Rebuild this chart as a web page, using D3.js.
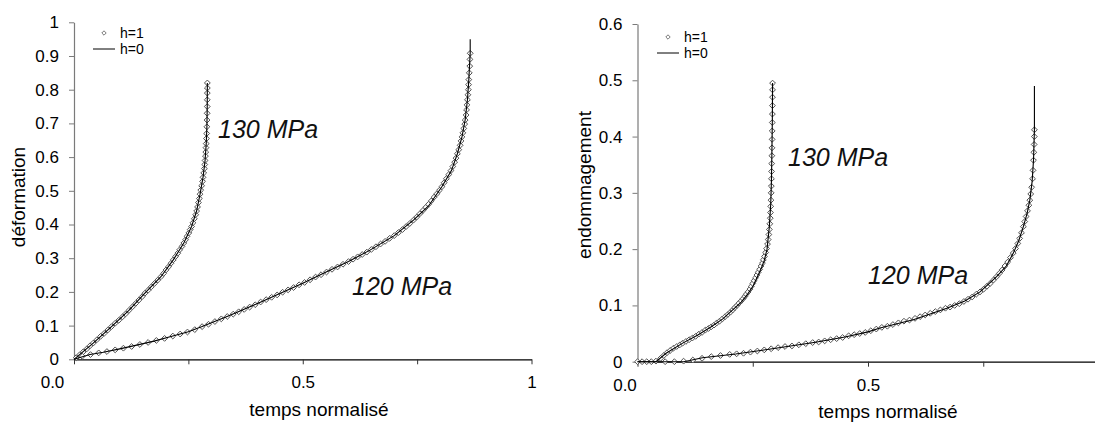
<!DOCTYPE html>
<html><head><meta charset="utf-8">
<script src="https://cdn.jsdelivr.net/npm/d3@7"></script>
<style>body{margin:0;background:#fff}svg{display:block;font-family:"Liberation Sans",Arial,sans-serif}</style>
</head><body>
<script>
// ---------- DATA ----------
const legendLabels = ["h=1", "h=0"];
const stressLabels = ["130 MPa", "120 MPa"];
const xTitle = "temps normalisé";
const leftYTitle = "déformation";
const rightYTitle = "endommagement";

const leftXTicks = [0, 0.25, 0.5, 0.75, 1];
const leftXTickLabels = ["0.0", "", "0.5", "", "1"];
const leftYTicks = [0, 0.1, 0.2, 0.3, 0.4, 0.5, 0.6, 0.7, 0.8, 0.9, 1];
const leftYTickLabels = ["0", "0.1", "0.2", "0.3", "0.4", "0.5", "0.6", "0.7", "0.8", "0.9", "1"];
const rightXTicks = [0, 0.25, 0.5, 0.75];
const rightXTickLabels = ["0.0", "", "0.5", ""];
const rightYTicks = [0, 0.1, 0.2, 0.3, 0.4, 0.5, 0.6];
const rightYTickLabels = ["0", "0.1", "0.2", "0.3", "0.4", "0.5", "0.6"];

// déformation, h=0 (line)
const defLine130 = [[0,0],[0.042,0.048],[0.082,0.097],[0.12,0.145],[0.155,0.196],[0.19,0.245],[0.217,0.295],[0.24,0.345],[0.257,0.394],[0.268,0.44],[0.2755,0.49],[0.282,0.54],[0.2865,0.59],[0.289,0.64],[0.2905,0.69],[0.2912,0.75],[0.2915,0.82]];
const defLine120 = [[0,0],[0.035,0.014],[0.064,0.021],[0.1,0.031],[0.137,0.042],[0.175,0.054],[0.21,0.067],[0.25,0.082],[0.28,0.097],[0.34,0.13],[0.4,0.165],[0.45,0.195],[0.5,0.226],[0.55,0.258],[0.6,0.29],[0.647,0.324],[0.7,0.367],[0.742,0.413],[0.775,0.455],[0.804,0.512],[0.825,0.56],[0.838,0.61],[0.848,0.66],[0.855,0.71],[0.86,0.77],[0.863,0.83],[0.866,0.91],[0.866,0.95]];
// déformation, h=1 (markers)
const defPts130 = [[0.005,0.005],[0.012,0.013],[0.02,0.022],[0.028,0.031],[0.035,0.04],[0.042,0.048],[0.05,0.058],[0.058,0.068],[0.066,0.077],[0.074,0.087],[0.082,0.097],[0.09,0.107],[0.098,0.116],[0.106,0.126],[0.113,0.135],[0.12,0.145],[0.128,0.156],[0.135,0.166],[0.142,0.176],[0.149,0.186],[0.155,0.196],[0.162,0.205],[0.169,0.215],[0.176,0.225],[0.183,0.235],[0.19,0.245],[0.196,0.255],[0.201,0.265],[0.207,0.275],[0.212,0.285],[0.217,0.295],[0.222,0.305],[0.227,0.315],[0.231,0.325],[0.236,0.335],[0.24,0.345],[0.244,0.355],[0.247,0.365],[0.251,0.375],[0.254,0.385],[0.257,0.394],[0.26,0.405],[0.263,0.417],[0.266,0.429],[0.268,0.44],[0.27,0.452],[0.272,0.465],[0.274,0.477],[0.2755,0.49],[0.277,0.502],[0.279,0.515],[0.281,0.528],[0.282,0.54],[0.2835,0.553],[0.285,0.566],[0.2858,0.578],[0.2865,0.59],[0.2873,0.603],[0.288,0.615],[0.2885,0.628],[0.289,0.64],[0.2895,0.655],[0.29,0.67],[0.2905,0.69],[0.2908,0.71],[0.291,0.73],[0.2912,0.75],[0.2913,0.77],[0.2914,0.79],[0.2915,0.805],[0.2915,0.82]];
const defPts120 = [[0.018,0.009],[0.036,0.014],[0.054,0.019],[0.072,0.023],[0.09,0.028],[0.108,0.033],[0.126,0.038],[0.144,0.044],[0.162,0.05],[0.18,0.056],[0.198,0.062],[0.216,0.069],[0.232,0.075],[0.248,0.081],[0.264,0.088],[0.28,0.097],[0.294,0.104],[0.308,0.112],[0.322,0.12],[0.335,0.127],[0.348,0.134],[0.36,0.141],[0.372,0.148],[0.384,0.155],[0.396,0.162],[0.408,0.17],[0.42,0.177],[0.432,0.184],[0.444,0.191],[0.456,0.199],[0.468,0.206],[0.48,0.213],[0.492,0.221],[0.504,0.228],[0.516,0.236],[0.528,0.244],[0.54,0.251],[0.552,0.259],[0.564,0.267],[0.576,0.274],[0.588,0.282],[0.6,0.29],[0.61,0.297],[0.62,0.304],[0.63,0.311],[0.64,0.318],[0.65,0.326],[0.66,0.334],[0.67,0.342],[0.68,0.35],[0.69,0.359],[0.7,0.367],[0.709,0.376],[0.718,0.385],[0.726,0.394],[0.734,0.403],[0.742,0.413],[0.749,0.422],[0.756,0.432],[0.763,0.442],[0.769,0.451],[0.775,0.46],[0.781,0.47],[0.787,0.481],[0.793,0.491],[0.799,0.502],[0.804,0.512],[0.809,0.524],[0.814,0.536],[0.819,0.548],[0.824,0.56],[0.828,0.572],[0.832,0.585],[0.835,0.597],[0.838,0.61],[0.841,0.622],[0.844,0.635],[0.846,0.648],[0.848,0.66],[0.85,0.672],[0.852,0.685],[0.854,0.698],[0.855,0.71],[0.857,0.725],[0.858,0.74],[0.859,0.755],[0.86,0.77],[0.861,0.785],[0.862,0.8],[0.8625,0.815],[0.863,0.83],[0.864,0.85],[0.865,0.87],[0.8655,0.89],[0.866,0.908]];

// endommagement, h=0 (line)
const endLine130 = [[0,0],[0.04,0],[0.062,0.015],[0.098,0.033],[0.13,0.047],[0.16,0.062],[0.185,0.076],[0.2065,0.092],[0.225,0.106],[0.239,0.12],[0.251,0.135],[0.26,0.151],[0.268,0.165],[0.275,0.18],[0.281,0.2],[0.286,0.24],[0.289,0.28],[0.2905,0.32],[0.2915,0.37],[0.2925,0.43],[0.293,0.495]];
const endLine120 = [[0,0],[0.06,0],[0.1,0],[0.113,0.002],[0.141,0.007],[0.213,0.0137],[0.285,0.022],[0.386,0.0345],[0.45,0.044],[0.5,0.053],[0.526,0.06],[0.6,0.075],[0.671,0.095],[0.71,0.108],[0.743,0.124],[0.779,0.151],[0.8,0.17],[0.815,0.1925],[0.827,0.215],[0.837,0.24],[0.845,0.263],[0.851,0.287],[0.856,0.32],[0.859,0.358],[0.861,0.412],[0.861,0.49]];
// endommagement, h=1 (markers)
const endPts130 = [[0,0],[0.01,0],[0.02,0],[0.03,0],[0.04,0.001],[0.05,0.006],[0.057,0.011],[0.064,0.016],[0.071,0.02],[0.078,0.024],[0.085,0.027],[0.092,0.03],[0.098,0.033],[0.105,0.036],[0.112,0.039],[0.119,0.042],[0.126,0.045],[0.133,0.049],[0.14,0.052],[0.147,0.056],[0.154,0.059],[0.16,0.062],[0.166,0.065],[0.172,0.069],[0.178,0.072],[0.184,0.076],[0.19,0.08],[0.196,0.084],[0.2015,0.088],[0.2065,0.092],[0.211,0.096],[0.216,0.1],[0.22,0.104],[0.225,0.108],[0.229,0.112],[0.233,0.116],[0.236,0.12],[0.24,0.124],[0.244,0.129],[0.247,0.134],[0.25,0.139],[0.253,0.144],[0.256,0.149],[0.259,0.154],[0.262,0.159],[0.265,0.164],[0.268,0.17],[0.271,0.175],[0.273,0.181],[0.2755,0.187],[0.278,0.194],[0.28,0.201],[0.282,0.209],[0.2835,0.217],[0.285,0.226],[0.286,0.235],[0.287,0.245],[0.288,0.255],[0.2885,0.265],[0.289,0.276],[0.2895,0.287],[0.29,0.3],[0.2903,0.312],[0.2906,0.325],[0.2909,0.338],[0.2912,0.352],[0.2915,0.366],[0.2918,0.38],[0.292,0.395],[0.2922,0.41],[0.2924,0.425],[0.2926,0.44],[0.2927,0.455],[0.2928,0.47],[0.2929,0.483],[0.293,0.495]];
const endPts120 = [[0.06,0],[0.08,0],[0.1,0.001],[0.12,0.003],[0.14,0.006],[0.16,0.009],[0.18,0.011],[0.2,0.013],[0.215,0.014],[0.23,0.015],[0.245,0.017],[0.26,0.019],[0.275,0.021],[0.29,0.023],[0.305,0.025],[0.32,0.027],[0.335,0.028],[0.35,0.03],[0.365,0.032],[0.38,0.034],[0.393,0.035],[0.406,0.037],[0.419,0.039],[0.432,0.041],[0.445,0.043],[0.458,0.046],[0.47,0.048],[0.482,0.05],[0.494,0.052],[0.506,0.055],[0.518,0.058],[0.53,0.061],[0.542,0.063],[0.554,0.066],[0.566,0.069],[0.578,0.072],[0.59,0.074],[0.602,0.077],[0.613,0.08],[0.624,0.083],[0.635,0.086],[0.646,0.089],[0.657,0.092],[0.668,0.095],[0.678,0.097],[0.688,0.1],[0.698,0.103],[0.708,0.107],[0.717,0.111],[0.726,0.115],[0.735,0.12],[0.743,0.124],[0.751,0.129],[0.758,0.134],[0.765,0.139],[0.772,0.145],[0.779,0.151],[0.785,0.157],[0.791,0.163],[0.797,0.17],[0.803,0.177],[0.809,0.185],[0.815,0.193],[0.82,0.201],[0.825,0.21],[0.829,0.219],[0.833,0.229],[0.837,0.24],[0.84,0.249],[0.843,0.258],[0.846,0.268],[0.849,0.278],[0.851,0.287],[0.853,0.298],[0.855,0.31],[0.857,0.325],[0.858,0.34],[0.859,0.358],[0.8598,0.372],[0.8604,0.386],[0.8608,0.4],[0.861,0.412]];

// ---------- DRAW ----------
const W = 1095, H = 423;
const svg = d3.select("body").append("svg").attr("width", W).attr("height", H);
const diamond = "M0,-2.9L2.9,0L0,2.9L-2.9,0Z";

function panel(cfg) {
  const x = d3.scaleLinear().domain([0, 1]).range([cfg.x0, cfg.x1]);
  const y = d3.scaleLinear().domain([0, cfg.ymax]).range([cfg.y0, cfg.y1]);
  const g = svg.append("g");

  // y axis
  const ya = g.append("g").attr("transform", `translate(${cfg.x0},0)`)
    .call(d3.axisLeft(y).tickValues(cfg.yTicks).tickSize(5).tickSizeOuter(0).tickPadding(10)
      .tickFormat((d, i) => cfg.yLabels[i]));
  ya.select(".domain").attr("stroke", "#7a7a7a").attr("stroke-width", 1.2);
  ya.selectAll(".tick line").attr("stroke", "#7a7a7a");
  ya.selectAll(".tick text").attr("font-size", 17).attr("fill", "#000")
    .attr("font-family", '"Liberation Sans",Arial,sans-serif');

  // x axis
  const xa = g.append("g").attr("transform", `translate(0,${cfg.y0})`)
    .call(d3.axisBottom(x).tickValues(cfg.xTicks).tickSize(5).tickSizeOuter(0).tickPadding(12)
      .tickFormat((d, i) => cfg.xLabels[i]));
  xa.select(".domain").attr("stroke", "#000").attr("stroke-width", 1.2);
  xa.selectAll(".tick line").attr("stroke", "#333");
  xa.selectAll(".tick text").attr("font-size", 17).attr("fill", "#000")
    .attr("font-family", '"Liberation Sans",Arial,sans-serif')
    .attr("dx", (d, i) => i === 0 ? cfg.firstLabelDx : 0);

  // titles
  g.append("text").attr("x", cfg.xTitleX).attr("y", cfg.xTitleY).attr("text-anchor", "middle")
    .attr("font-size", 19).text(xTitle);
  g.append("text").attr("transform", `translate(${cfg.yTitleX},${cfg.yTitleY}) rotate(-90)`)
    .attr("text-anchor", "middle").attr("font-size", 19).text(cfg.yTitle);

  const line = d3.line().x(d => x(d[0])).y(d => y(d[1]));
  // h=1 markers
  [cfg.pts130, cfg.pts120].forEach(pts => {
    g.append("g").selectAll("path").data(pts).join("path")
      .attr("d", diamond)
      .attr("transform", d => `translate(${x(d[0])},${y(d[1])})`)
      .attr("fill", "#fff").attr("stroke", "#505050").attr("stroke-width", 1);
  });
  // h=0 lines
  [cfg.line130, cfg.line120].forEach(l => {
    g.append("path").datum(l).attr("d", line).attr("fill", "none")
      .attr("stroke", "#000").attr("stroke-width", 1.1);
  });

  // curve labels
  cfg.labels.forEach((lb, i) => {
    g.append("text").attr("x", lb[0]).attr("y", lb[1]).attr("font-size", 25)
      .attr("font-style", "italic").attr("fill", "#111").text(stressLabels[i]);
  });

  // legend
  const lg = g.append("g");
  lg.append("path").attr("d", "M0,-2.2L2.2,0L0,2.2L-2.2,0Z")
    .attr("transform", `translate(${cfg.legX + 11},${cfg.legY1})`)
    .attr("fill", "#fff").attr("stroke", "#6a6a6a").attr("stroke-width", 0.9);
  lg.append("line").attr("x1", cfg.legX).attr("x2", cfg.legX + 22)
    .attr("y1", cfg.legY2).attr("y2", cfg.legY2).attr("stroke", "#000").attr("stroke-width", 1);
  [cfg.legY1, cfg.legY2].forEach((yy, i) => {
    lg.append("text").attr("x", cfg.legX + 27).attr("y", yy).attr("dy", "0.35em")
      .attr("font-size", 14).text(legendLabels[i]);
  });
}

panel({
  x0: 74, x1: 531.5, y0: 359.3, y1: 22.3, ymax: 1,
  xTicks: leftXTicks, xLabels: leftXTickLabels, yTicks: leftYTicks, yLabels: leftYTickLabels,
  firstLabelDx: -22,
  xTitleX: 319, xTitleY: 416, yTitleX: 25, yTitleY: 197, yTitle: leftYTitle,
  pts130: defPts130, pts120: defPts120, line130: defLine130, line120: defLine120,
  labels: [[218, 138], [352, 295]],
  legX: 93, legY1: 33, legY2: 49
});
panel({
  x0: 637.5, x1: 1098.5, y0: 361.7, y1: 24, ymax: 0.6,
  xTicks: rightXTicks, xLabels: rightXTickLabels, yTicks: rightYTicks, yLabels: rightYTickLabels,
  firstLabelDx: -13,
  xTitleX: 888, xTitleY: 418, yTitleX: 591, yTitleY: 185, yTitle: rightYTitle,
  pts130: endPts130, pts120: endPts120, line130: endLine130, line120: endLine120,
  labels: [[788, 166], [868, 284]],
  legX: 657, legY1: 37, legY2: 53
});
</script>
</body></html>
